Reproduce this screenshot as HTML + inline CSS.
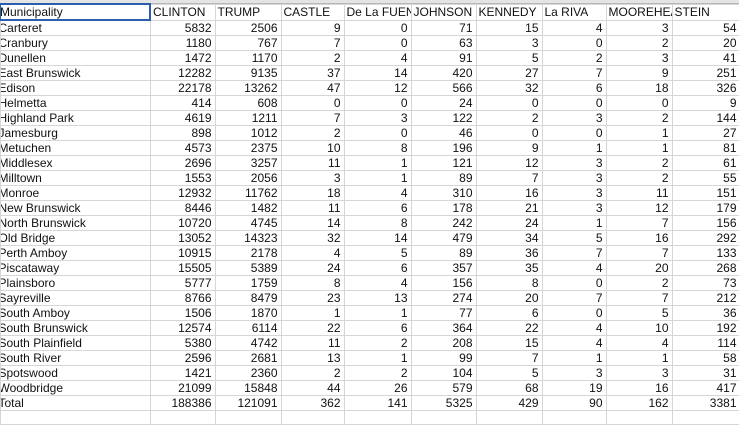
<!DOCTYPE html>
<html><head><meta charset="utf-8"><style>
html,body{margin:0;padding:0;background:#fff;width:739px;height:422px;overflow:hidden}
.top{position:absolute;left:0;top:0;width:739px;height:3px;background:#e4e4e4;border-bottom:1px solid #b8b8b8}
table{position:absolute;left:-1px;top:3px;width:740px;border-collapse:collapse;table-layout:fixed;font-family:"Liberation Sans",sans-serif;font-size:12px;color:#111}
td{height:14px;padding:0 3px;border:1px solid #d6d6d6;white-space:nowrap;overflow:hidden;text-align:right;line-height:14px;box-sizing:border-box}
td:first-child{text-align:left;padding:0;text-indent:-2px}
tr.h td{text-align:left;padding-left:2px;text-overflow:clip}
tr.h td:first-child{border:2px solid #2a5fb0;padding-left:0;text-indent:-1px}
</style></head><body>
<div class="top"></div>
<table>
<colgroup><col style="width:150px"><col style="width:65px"><col style="width:66px"><col style="width:63px"><col style="width:67px"><col style="width:65px"><col style="width:66px"><col style="width:64px"><col style="width:66px"><col style="width:68px"></colgroup>
<tr class="h"><td>Municipality</td><td>CLINTON</td><td>TRUMP</td><td>CASTLE</td><td>De La FUENTE</td><td>JOHNSON</td><td>KENNEDY</td><td>La RIVA</td><td>MOOREHEAD</td><td>STEIN</td></tr>
<tr><td>Carteret</td><td>5832</td><td>2506</td><td>9</td><td>0</td><td>71</td><td>15</td><td>4</td><td>3</td><td>54</td></tr>
<tr><td>Cranbury</td><td>1180</td><td>767</td><td>7</td><td>0</td><td>63</td><td>3</td><td>0</td><td>2</td><td>20</td></tr>
<tr><td>Dunellen</td><td>1472</td><td>1170</td><td>2</td><td>4</td><td>91</td><td>5</td><td>2</td><td>3</td><td>41</td></tr>
<tr><td>East Brunswick</td><td>12282</td><td>9135</td><td>37</td><td>14</td><td>420</td><td>27</td><td>7</td><td>9</td><td>251</td></tr>
<tr><td>Edison</td><td>22178</td><td>13262</td><td>47</td><td>12</td><td>566</td><td>32</td><td>6</td><td>18</td><td>326</td></tr>
<tr><td>Helmetta</td><td>414</td><td>608</td><td>0</td><td>0</td><td>24</td><td>0</td><td>0</td><td>0</td><td>9</td></tr>
<tr><td>Highland Park</td><td>4619</td><td>1211</td><td>7</td><td>3</td><td>122</td><td>2</td><td>3</td><td>2</td><td>144</td></tr>
<tr><td>Jamesburg</td><td>898</td><td>1012</td><td>2</td><td>0</td><td>46</td><td>0</td><td>0</td><td>1</td><td>27</td></tr>
<tr><td>Metuchen</td><td>4573</td><td>2375</td><td>10</td><td>8</td><td>196</td><td>9</td><td>1</td><td>1</td><td>81</td></tr>
<tr><td>Middlesex</td><td>2696</td><td>3257</td><td>11</td><td>1</td><td>121</td><td>12</td><td>3</td><td>2</td><td>61</td></tr>
<tr><td>Milltown</td><td>1553</td><td>2056</td><td>3</td><td>1</td><td>89</td><td>7</td><td>3</td><td>2</td><td>55</td></tr>
<tr><td>Monroe</td><td>12932</td><td>11762</td><td>18</td><td>4</td><td>310</td><td>16</td><td>3</td><td>11</td><td>151</td></tr>
<tr><td>New Brunswick</td><td>8446</td><td>1482</td><td>11</td><td>6</td><td>178</td><td>21</td><td>3</td><td>12</td><td>179</td></tr>
<tr><td>North Brunswick</td><td>10720</td><td>4745</td><td>14</td><td>8</td><td>242</td><td>24</td><td>1</td><td>7</td><td>156</td></tr>
<tr><td>Old Bridge</td><td>13052</td><td>14323</td><td>32</td><td>14</td><td>479</td><td>34</td><td>5</td><td>16</td><td>292</td></tr>
<tr><td>Perth Amboy</td><td>10915</td><td>2178</td><td>4</td><td>5</td><td>89</td><td>36</td><td>7</td><td>7</td><td>133</td></tr>
<tr><td>Piscataway</td><td>15505</td><td>5389</td><td>24</td><td>6</td><td>357</td><td>35</td><td>4</td><td>20</td><td>268</td></tr>
<tr><td>Plainsboro</td><td>5777</td><td>1759</td><td>8</td><td>4</td><td>156</td><td>8</td><td>0</td><td>2</td><td>73</td></tr>
<tr><td>Sayreville</td><td>8766</td><td>8479</td><td>23</td><td>13</td><td>274</td><td>20</td><td>7</td><td>7</td><td>212</td></tr>
<tr><td>South Amboy</td><td>1506</td><td>1870</td><td>1</td><td>1</td><td>77</td><td>6</td><td>0</td><td>5</td><td>36</td></tr>
<tr><td>South Brunswick</td><td>12574</td><td>6114</td><td>22</td><td>6</td><td>364</td><td>22</td><td>4</td><td>10</td><td>192</td></tr>
<tr><td>South Plainfield</td><td>5380</td><td>4742</td><td>11</td><td>2</td><td>208</td><td>15</td><td>4</td><td>4</td><td>114</td></tr>
<tr><td>South River</td><td>2596</td><td>2681</td><td>13</td><td>1</td><td>99</td><td>7</td><td>1</td><td>1</td><td>58</td></tr>
<tr><td>Spotswood</td><td>1421</td><td>2360</td><td>2</td><td>2</td><td>104</td><td>5</td><td>3</td><td>3</td><td>31</td></tr>
<tr><td>Woodbridge</td><td>21099</td><td>15848</td><td>44</td><td>26</td><td>579</td><td>68</td><td>19</td><td>16</td><td>417</td></tr>
<tr><td>Total</td><td>188386</td><td>121091</td><td>362</td><td>141</td><td>5325</td><td>429</td><td>90</td><td>162</td><td>3381</td></tr>
<tr><td></td><td></td><td></td><td></td><td></td><td></td><td></td><td></td><td></td><td></td></tr>
</table>
</body></html>
